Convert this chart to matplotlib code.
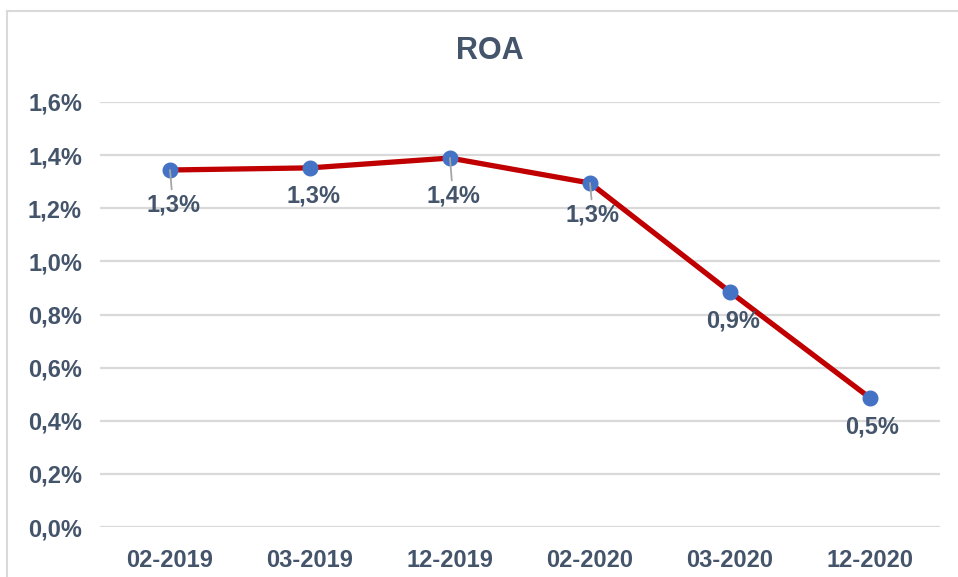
import matplotlib.pyplot as plt
from matplotlib.lines import Line2D

# ROA por periodo
periodos = ['02-2019', '03-2019', '12-2019', '02-2020', '03-2020', '12-2020']
roa = [1.344, 1.352, 1.389, 1.295, 0.885, 0.486]
etiquetas = ['1,3%', '1,3%', '1,4%', '1,3%', '0,9%', '0,5%']
yticks = [0.0, 0.2, 0.4, 0.6, 0.8, 1.0, 1.2, 1.4, 1.6]
ytick_labels = ['0,0%', '0,2%', '0,4%', '0,6%', '0,8%', '1,0%', '1,2%', '1,4%', '1,6%']

# desplazamiento de cada etiqueta (px) y si lleva linea guia
offsets = [(3, -35), (3, -28), (3, -38), (3, -32), (3, -29), (2, -29)]
guia = [True, False, True, True, False, False]

texto = '#44546A'
plt.rcParams['font.family'] = ['Liberation Sans', 'DejaVu Sans']

fig = plt.figure(figsize=(9.58, 5.77), dpi=100)
ax = fig.add_axes([100/958, 50/577, 840/958, 425/577])

# marco del grafico
fig.add_artist(Line2D([7/958, 7/958], [0, 1 - 10.5/577], transform=fig.transFigure,
                      color='#D9D9D9', lw=1.5))
fig.add_artist(Line2D([7/958, 1], [1 - 10.5/577, 1 - 10.5/577], transform=fig.transFigure,
                      color='#D9D9D9', lw=1.5))

x = range(len(periodos))
ax.plot(x, roa, color='#C00000', lw=3.8, zorder=3)
ax.plot(x, roa, 'o', color='#4472C4', markersize=10.5, zorder=4)

for i, (v, lab) in enumerate(zip(roa, etiquetas)):
    props = None
    if guia[i]:
        props = dict(arrowstyle='-', color='#A6A6A6', lw=1.3, shrinkA=1, shrinkB=0)
    ax.annotate(lab, (i, v), xytext=offsets[i], textcoords='offset pixels',
                ha='center', va='center', fontsize=17, fontweight='bold',
                color=texto, arrowprops=props, zorder=5)

ax.set_xlim(-0.5, len(periodos) - 0.5)
ax.set_ylim(0, 1.6)
ax.set_xticks(list(x))
ax.set_xticklabels(periodos)
ax.set_yticks(yticks)
ax.set_yticklabels(ytick_labels)
ax.grid(axis='y', color='#D9D9D9', lw=1.6)
ax.set_axisbelow(True)
for s in ax.spines.values():
    s.set_visible(False)
ax.tick_params(length=0, labelsize=17, labelcolor=texto, pad=13)
ax.tick_params(axis='x', pad=16)
for t in ax.get_xticklabels() + ax.get_yticklabels():
    t.set_fontweight('bold')

fig.text(490/958, 1 - 51/577, 'ROA', ha='center', va='center', fontsize=22,
         fontweight='bold', color=texto)

fig.savefig('out.png', dpi=100)
